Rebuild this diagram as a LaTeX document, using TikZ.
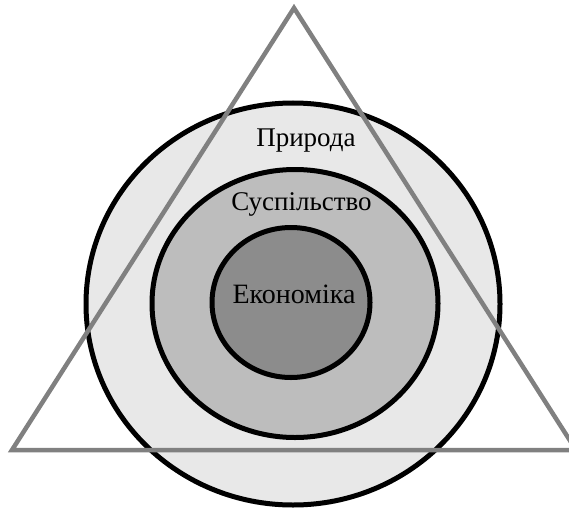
\documentclass[tikz,border=0pt]{standalone}
\usepackage{fontspec}
\setmainfont{Liberation Serif}
\begin{document}
\begin{tikzpicture}[x=1pt,y=-1pt,
  ring/.style={draw=black,line width=5pt},
  label/.style={anchor=base,font=\fontsize{27}{31}\selectfont,inner sep=0pt},
  frame/.style={draw=black!50,line width=4.5pt,line join=miter}]
  \useasboundingbox (0,0) rectangle (569,508);
  \clip (0,0) rectangle (569,508);
  % nested rings
  \coordinate (c) at (293,304);
  \filldraw[ring,fill=black!9]  (c) ellipse [x radius=207pt,y radius=201pt];
  \filldraw[ring,fill=black!26] (295,303.5) ellipse [x radius=143pt,y radius=134pt];
  \filldraw[ring,fill=black!45] (291,302.5) ellipse [x radius=79pt,y radius=75pt];
  % labels
  \node[label] (nature)  at (306,146) {Природа};
  \node[label] (society) at (301.5,210) {Суспільство};
  \node[label,font=\fontsize{28}{32}\selectfont] (economy) at (294,303) {Економіка};
  % enclosing triangle
  \coordinate (top) at (294,8);
  \coordinate (left) at (12,450);
  \coordinate (right) at (576,450);
  \draw[frame] (top) -- (left) -- (right) -- cycle;
\end{tikzpicture}
\end{document}
